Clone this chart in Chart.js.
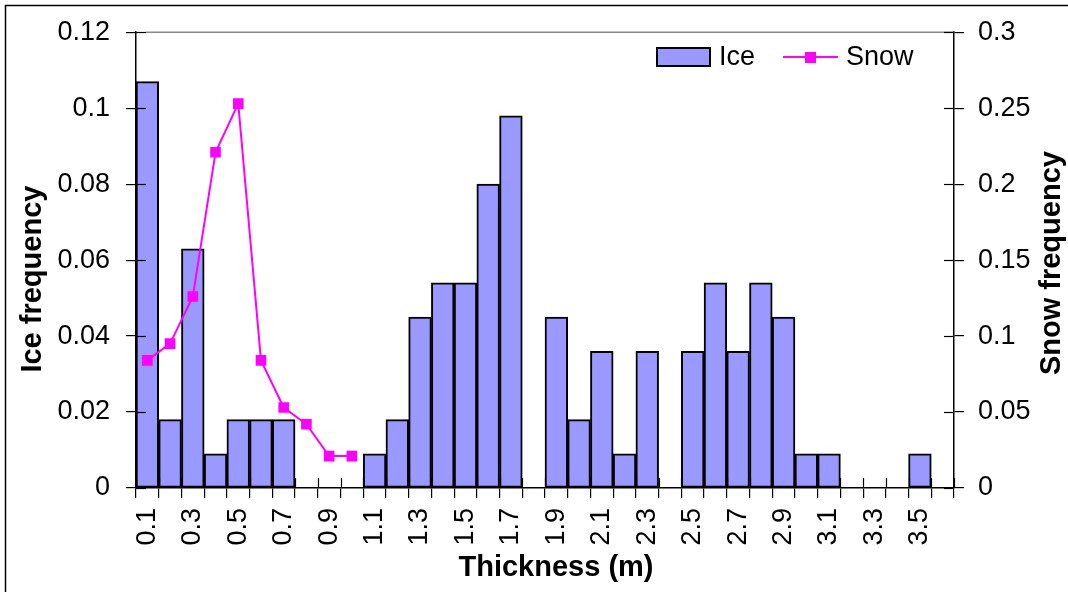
<!DOCTYPE html>
<html>
<head>
<meta charset="utf-8">
<script src="https://cdn.jsdelivr.net/npm/chart.js@4.4.1/dist/chart.umd.min.js"></script>
<style>
  html, body { margin: 0; padding: 0; background: #fff; }
  canvas { display: block; }
</style>
</head>
<body>
<canvas id="chart" width="1068" height="592"></canvas>
<script>
// thickness bins (m)
const thickness = ['0.1', '0.2', '0.3', '0.4', '0.5', '0.6', '0.7', '0.8', '0.9', '1.0',
    '1.1', '1.2', '1.3', '1.4', '1.5', '1.6', '1.7', '1.8', '1.9', '2.0',
    '2.1', '2.2', '2.3', '2.4', '2.5', '2.6', '2.7', '2.8', '2.9', '3.0',
    '3.1', '3.2', '3.3', '3.4', '3.5', '3.6'];

const iceFrequency = [0.107, 0.018, 0.063, 0.009, 0.018, 0.018, 0.018, 0, 0, 0,
    0.009, 0.018, 0.045, 0.054, 0.054, 0.080, 0.098, 0, 0.045, 0.018,
    0.036, 0.009, 0.036, 0, 0.036, 0.054, 0.036, 0.054, 0.045, 0.009,
    0.009, 0, 0, 0, 0.009, 0];

const snowFrequency = [0.084, 0.095, 0.126, 0.221, 0.253, 0.084, 0.053, 0.042, 0.021, 0.021,
    null, null, null, null, null, null, null, null, null, null,
    null, null, null, null, null, null, null, null, null, null,
    null, null, null, null, null, null];

const iceTicks = [0, 0.02, 0.04, 0.06, 0.08, 0.1, 0.12];
const snowTicks = [0, 0.05, 0.1, 0.15, 0.2, 0.25, 0.3];

const FONT = '"Liberation Sans", Arial, sans-serif';
Chart.defaults.font.family = FONT;
Chart.defaults.color = '#000';

const fmt = v => String(+v.toFixed(2));

const excelLook = {
    id: 'excelLook',
    beforeDraw: (chart) => {
        const { ctx, width, height } = chart;
        ctx.save();
        ctx.fillStyle = '#fff';
        ctx.fillRect(0, 0, width, height);
        // outer chart frame (only left/top visible)
        ctx.strokeStyle = '#000';
        ctx.lineWidth = 1.5;
        ctx.beginPath();
        ctx.moveTo(5.5, height + 5);
        ctx.lineTo(5.5, 5.5);
        ctx.lineTo(width + 5, 5.5);
        ctx.stroke();
        ctx.restore();
    },
    afterDatasetsDraw: (chart) => {
        const { ctx, chartArea: { left, top, right, bottom }, scales: { x, y, y1 } } = chart;
        const line = (x0, y0, x1, y1_) => {
            ctx.beginPath();
            ctx.moveTo(x0, y0);
            ctx.lineTo(x1, y1_);
            ctx.stroke();
        };
        ctx.save();
        // plot area top edge
        ctx.strokeStyle = '#888';
        ctx.lineWidth = 1.5;
        line(left + 10, top, right, top);

        // tick marks crossing into the plot area
        ctx.strokeStyle = '#000';
        ctx.lineWidth = 1.2;
        const n = x.ticks.length;
        const step = (right - left) / n;
        for (let i = 0; i <= n; i++) {
            const px = Math.round(left + i * step) + 0.5;
            line(px, bottom - 10, px, bottom);
        }
        y.ticks.forEach(t => {
            const py = Math.round(y.getPixelForValue(t.value)) + 0.5;
            line(left, py, left + 10, py);
        });
        y1.ticks.forEach(t => {
            const py = Math.round(y1.getPixelForValue(t.value)) + 0.5;
            line(right - 10, py, right, py);
        });

        // axis titles
        ctx.fillStyle = '#000';
        ctx.font = 'bold 29px ' + FONT;
        ctx.textAlign = 'center';
        ctx.textBaseline = 'middle';
        const midY = (top + bottom) / 2;
        ctx.save();
        ctx.translate(33, midY + 19);
        ctx.rotate(-Math.PI / 2);
        ctx.fillText('Ice frequency', 0, 0);
        ctx.restore();
        ctx.save();
        ctx.translate(1052, midY + 3);
        ctx.rotate(-Math.PI / 2);
        ctx.fillText('Snow frequency', 0, 0);
        ctx.restore();
        ctx.fillText('Thickness (m)', (left + right) / 2 + 11, 568);

        // legend inside plot area
        const [ice, snow] = chart.data.datasets;
        ctx.font = '27px ' + FONT;
        ctx.textAlign = 'left';
        ctx.fillStyle = ice.backgroundColor;
        ctx.fillRect(657, 48, 53, 18);
        ctx.strokeStyle = '#000';
        ctx.lineWidth = 2;
        ctx.strokeRect(657, 48, 53, 18);
        ctx.fillStyle = '#000';
        ctx.fillText(ice.label, 719, 58);
        ctx.strokeStyle = snow.borderColor;
        ctx.lineWidth = 2;
        line(783, 57, 838, 57);
        ctx.fillStyle = snow.pointBackgroundColor;
        ctx.fillRect(805, 52, 11, 11);
        ctx.fillStyle = '#000';
        ctx.fillText(snow.label, 846, 58);
        ctx.restore();
    }
};

new Chart(document.getElementById('chart').getContext('2d'), {
    data: {
        labels: thickness,
        datasets: [{
            type: 'bar',
            label: 'Ice',
            data: iceFrequency,
            yAxisID: 'y',
            backgroundColor: '#9999FF',
            borderColor: '#000',
            borderWidth: 2,
            borderSkipped: false,
            barPercentage: 1,
            categoryPercentage: 1,
            order: 2
        }, {
            type: 'line',
            label: 'Snow',
            data: snowFrequency,
            yAxisID: 'y1',
            borderColor: '#FF00FF',
            borderWidth: 2,
            pointStyle: 'rect',
            pointRadius: 7.5,
            pointBorderWidth: 0,
            pointBackgroundColor: '#FF00FF',
            pointBorderColor: '#FF00FF',
            tension: 0,
            spanGaps: false,
            order: 1
        }]
    },
    options: {
        responsive: false,
        animation: false,
        layout: { padding: { top: 30, left: 0, right: 0, bottom: 0 } },
        plugins: {
            legend: { display: false },
            tooltip: { enabled: false }
        },
        scales: {
            x: {
                type: 'category',
                offset: true,
                grid: {
                    offset: true,
                    drawOnChartArea: false,
                    tickLength: 10,
                    color: '#000',
                    lineWidth: 1.2
                },
                border: { color: '#000', width: 1.5 },
                ticks: {
                    autoSkip: false,
                    minRotation: 90,
                    maxRotation: 90,
                    padding: 10,
                    font: { size: 27 },
                    callback: (v, i) => i % 2 === 0 ? thickness[i] : ''
                },
                afterFit: (s) => { s.height = 104; }
            },
            y: {
                position: 'left',
                min: iceTicks[0],
                max: iceTicks[iceTicks.length - 1],
                grid: {
                    drawOnChartArea: false,
                    tickLength: 10,
                    color: '#000',
                    lineWidth: 1.2
                },
                border: { color: '#000', width: 1.5 },
                ticks: {
                    stepSize: 0.02,
                    padding: 16,
                    font: { size: 27 },
                    callback: fmt
                },
                afterFit: (s) => { s.width = 136; }
            },
            y1: {
                position: 'right',
                min: snowTicks[0],
                max: snowTicks[snowTicks.length - 1],
                grid: {
                    drawOnChartArea: false,
                    tickLength: 10,
                    color: '#000',
                    lineWidth: 1.2
                },
                border: { color: '#000', width: 1.5 },
                ticks: {
                    stepSize: 0.05,
                    padding: 14,
                    font: { size: 27 },
                    callback: fmt
                },
                afterFit: (s) => { s.width = 114; }
            }
        }
    },
    plugins: [excelLook]
});
</script>
</body>
</html>
